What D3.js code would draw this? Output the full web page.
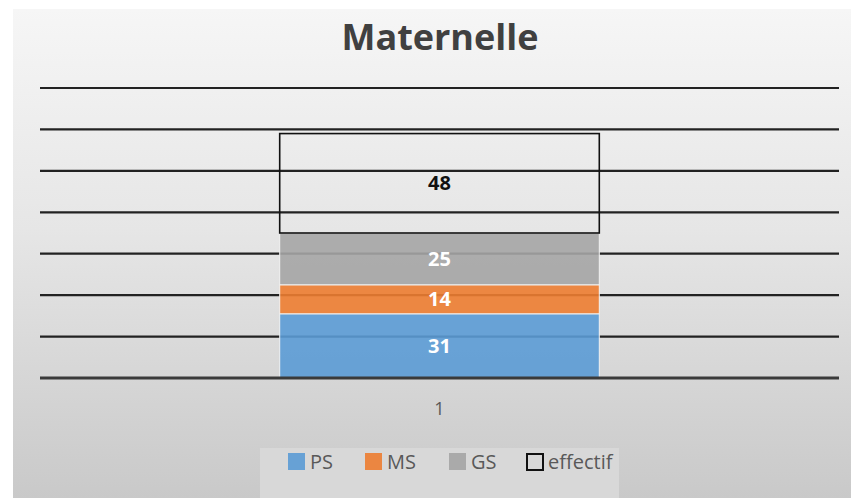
<!DOCTYPE html>
<html><head><meta charset="utf-8">
<script src="https://cdn.jsdelivr.net/npm/d3@7"></script>
<style>html,body{margin:0;padding:0;background:#fff;}svg{display:block;}</style>
</head><body>
<script>
const categories = ["1"];
const seriesNames = ["PS", "MS", "GS", "effectif"];
const PS = [31];
const MS = [14];
const GS = [25];
const effectif = [48];
const yTicks = [0, 20, 40, 60, 80, 100, 120, 140];
const colors = {PS: "#5b9bd5", MS: "#ed7d31", GS: "#a5a5a5", effectif: "none"};

const W = 851, H = 498;
const FONT = "'Open Sans', sans-serif";
const svg = d3.select("body").append("svg").attr("width", W).attr("height", H);
const defs = svg.append("defs");
const g1 = defs.append("linearGradient").attr("id", "bg").attr("x1", 0).attr("y1", 0).attr("x2", 0).attr("y2", 1);
g1.append("stop").attr("offset", "0%").attr("stop-color", "#f6f6f6");
g1.append("stop").attr("offset", "45%").attr("stop-color", "#e6e6e6");
g1.append("stop").attr("offset", "100%").attr("stop-color", "#c9c9c9");

svg.append("rect").attr("x", 13).attr("y", 9).attr("width", W - 13).attr("height", H - 9).attr("fill", "url(#bg)");
// legend backdrop
svg.append("rect").attr("x", 260).attr("y", 448).attr("width", 359).attr("height", 50).attr("fill", "#d8d8d8");

const x = d3.scaleBand().domain(categories).range([40, 839]).paddingInner(0).paddingOuter(0.75);
const y = d3.scaleLinear().domain([0, 140]).range([378, 88]);

// gridlines
svg.append("g").selectAll("line").data(yTicks.filter(t => t > 0)).join("line")
  .attr("x1", 40).attr("x2", 839).attr("y1", d => y(d)).attr("y2", d => y(d))
  .attr("stroke", "#222").attr("stroke-width", 2.2);

const data = categories.map((c, i) => ({cat: c, PS: PS[i], MS: MS[i], GS: GS[i], effectif: effectif[i]}));
const stack = d3.stack().keys(seriesNames)(data);

const gBars = svg.append("g");
stack.forEach(layer => {
  const key = layer.key;
  layer.forEach(d => {
    const x0 = x(d.data.cat), bw = x.bandwidth();
    if (key === "effectif") {
      gBars.append("rect").attr("x", x0).attr("y", y(d[1])).attr("width", bw).attr("height", y(d[0]) - y(d[1]))
        .attr("fill", "none").attr("stroke", "#111").attr("stroke-width", 1.6);
    } else {
      gBars.append("rect").attr("x", x0).attr("y", y(d[1])).attr("width", bw).attr("height", y(d[0]) - y(d[1]))
        .attr("fill", colors[key]).attr("fill-opacity", 0.9).attr("stroke", "#f2f2f2").attr("stroke-width", 1);
    }
    gBars.append("text").attr("x", x0 + bw / 2).attr("y", (y(d[0]) + y(d[1])) / 2 + 7)
      .attr("text-anchor", "middle").attr("font-family", FONT).attr("font-weight", "bold")
      .attr("font-size", 20).attr("fill", key === "effectif" ? "#111" : "#fff").text(d[1] - d[0]);
  });
});

// baseline
svg.append("line").attr("x1", 40).attr("x2", 839).attr("y1", y(0)).attr("y2", y(0))
  .attr("stroke", "#3a3a3a").attr("stroke-width", 3);

// x axis label
svg.append("g").selectAll("text").data(categories).join("text")
  .attr("x", d => x(d) + x.bandwidth() / 2).attr("y", 415).attr("text-anchor", "middle")
  .attr("font-family", FONT).attr("font-size", 18).attr("fill", "#595959").text(d => d);

// title
svg.append("text").attr("x", 440).attr("y", 50).attr("text-anchor", "middle")
  .attr("font-family", FONT).attr("font-weight", "bold").attr("font-size", 36)
  .attr("fill", "#404040").attr("letter-spacing", 0).text("Maternelle");

// legend
const legendX = [288, 365, 449, 526];
const lg = svg.append("g");
seriesNames.forEach((s, i) => {
  const lx = legendX[i];
  if (s === "effectif") {
    lg.append("rect").attr("x", lx + 1).attr("y", 454).attr("width", 16).attr("height", 16)
      .attr("fill", "none").attr("stroke", "#111").attr("stroke-width", 2);
  } else {
    lg.append("rect").attr("x", lx).attr("y", 453).attr("width", 17).attr("height", 17).attr("fill", colors[s]).attr("fill-opacity", 0.9);
  }
  lg.append("text").attr("x", lx + 22).attr("y", 469).attr("font-family", FONT)
    .attr("font-size", 20).attr("fill", "#595959").text(s);
});
</script>
</body></html>
